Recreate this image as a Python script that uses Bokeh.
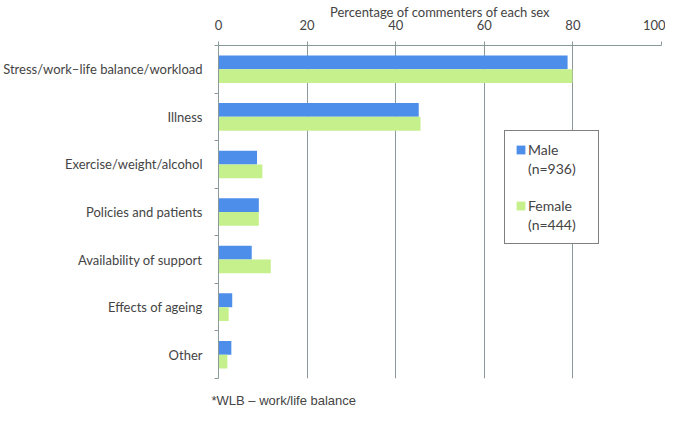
from bokeh.plotting import figure
from bokeh.models import (ColumnDataSource, Range1d, FixedTicker, Legend, LegendItem, Title)
from bokeh.embed import file_html
from bokeh.resources import INLINE

categories = ["Stress/work\u2013life balance/workload", "Illness", "Exercise/weight/alcohol",
              "Policies and patients", "Availability of support", "Effects of ageing", "Other"]
male = [78.8, 45.2, 8.7, 9.1, 7.5, 3.1, 2.9]
female = [79.9, 45.6, 9.9, 9.1, 11.8, 2.3, 2.0]
x_ticks = [0, 20, 40, 60, 80, 100]
series_names = ["Male", "Female"]
series_counts = ["(n=936)", "(n=444)"]
footnote = "*WLB \u2013 work/life balance"

BLUE = "#4C8EEA"
GREEN = "#C6F08C"
GRID = "#8A9A9A"
FONT = "Lato"

n = len(categories)
centers = [i + 0.5 for i in range(n)]
off = 0.145
src = ColumnDataSource(dict(
    y_m=[c - off for c in centers], y_f=[c + off for c in centers],
    male=male, female=female))

p = figure(frame_width=443, frame_height=333, output_backend="svg", toolbar_location=None,
           x_axis_location="above",
           x_range=Range1d(0, 100), y_range=Range1d(n, 0),
           min_border_left=212, min_border_right=4, min_border_top=36, min_border_bottom=36)
p.outline_line_color = None
p.background_fill_color = "white"
p.border_fill_color = "white"

rm = p.hbar(y="y_m", right="male", left=0, height=0.29, source=src, fill_color=BLUE, line_color=None)
rf = p.hbar(y="y_f", right="female", left=0, height=0.29, source=src, fill_color=GREEN, line_color=None)
# invisible renderer used only for text-only legend rows
blank = p.hbar(y=[], right=[], left=0, height=0.29, fill_color=None, line_color=None)

# x axis (top)
xa = p.xaxis[0]
xa.ticker = FixedTicker(ticks=x_ticks)
xa.axis_label = "Percentage of commenters of each sex"
xa.axis_label_text_font = FONT
xa.axis_label_text_font_style = "normal"
xa.axis_label_text_font_size = "13px"
xa.axis_label_standoff = -3
xa.major_label_text_font = FONT
xa.major_label_text_font_size = "13px"
xa.major_label_standoff = 12
xa.axis_line_color = GRID
xa.major_tick_line_color = GRID
xa.major_tick_out = 4
xa.major_tick_in = 0
xa.minor_tick_line_color = None

# y axis (categories)
ya = p.yaxis[0]
ya.ticker = FixedTicker(ticks=centers, minor_ticks=list(range(n + 1)))
ya.major_label_overrides = {c: cat for c, cat in zip(centers, categories)}
ya.major_label_text_font = FONT
ya.major_label_text_font_size = "13px"
ya.major_label_standoff = 12
ya.major_tick_line_color = None
ya.major_tick_out = 0
ya.major_tick_in = 0
ya.minor_tick_line_color = GRID
ya.minor_tick_out = 4
ya.minor_tick_in = 0
ya.axis_line_color = GRID

p.xgrid.ticker = FixedTicker(ticks=x_ticks[1:])
p.xgrid.grid_line_color = GRID
p.ygrid.grid_line_color = None

legend = Legend(items=[LegendItem(label=series_names[0], renderers=[rm]),
                       LegendItem(label=series_counts[0], renderers=[blank]),
                       LegendItem(label=" ", renderers=[blank]),
                       LegendItem(label=series_names[1], renderers=[rf]),
                       LegendItem(label=series_counts[1], renderers=[blank])],
                location=(286, 134), orientation="vertical")
legend.label_text_font = FONT
legend.label_text_font_size = "14px"
legend.label_height = 16
legend.glyph_width = 11
legend.glyph_height = 11
legend.label_standoff = 2
legend.padding = 10
legend.spacing = 2
legend.margin = 0
legend.border_line_color = "black"
legend.border_line_width = 1
legend.background_fill_color = "white"
legend.background_fill_alpha = 1
legend.label_width = 60
p.add_layout(legend, "center")

note = Title(text=footnote, text_font="Liberation Sans", text_font_size="13px",
             text_font_style="normal", align="left", offset=-7, standoff=25)
p.add_layout(note, "below")

open("out.html", "w").write(file_html(p, INLINE))
